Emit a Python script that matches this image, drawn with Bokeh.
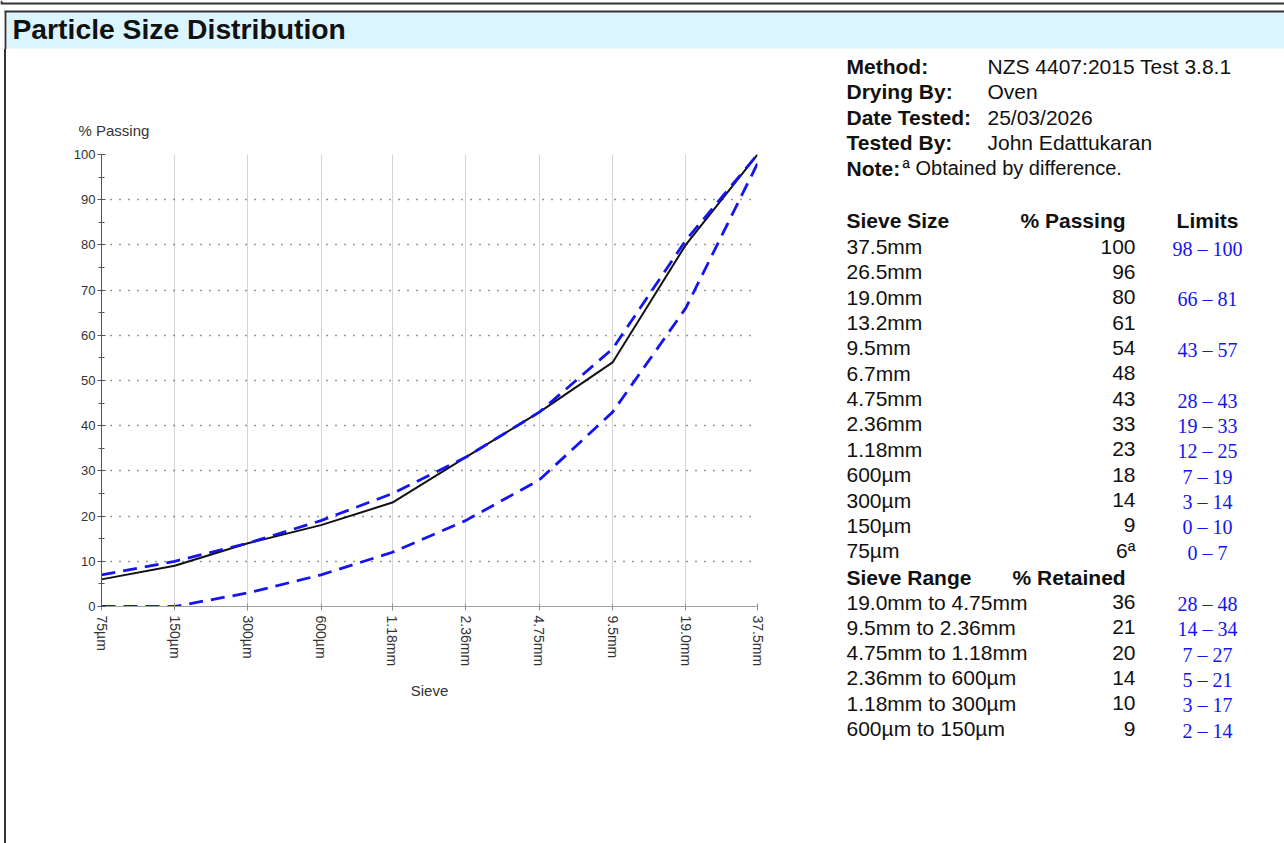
from bokeh.plotting import figure
from bokeh.models import Range1d, FixedTicker, SingleIntervalTicker, Spacer
from bokeh.layouts import column, row
from bokeh.embed import file_html
from bokeh.resources import INLINE
from bokeh.core.properties import value

SANS = "Liberation Sans"
SERIF = "Liberation Serif"

# ---------------- data ----------------
sieve_labels = ["75µm", "150µm", "300µm", "600µm", "1.18mm", "2.36mm",
                "4.75mm", "9.5mm", "19.0mm", "37.5mm"]
sieve_mm = [0.075, 0.15, 0.3, 0.6, 1.18, 2.36, 4.75, 9.5, 19.0, 37.5]
passing = [6, 9, 14, 18, 23, 33, 43, 54, 80, 100]
upper_limit = [7, 10, 14, 19, 25, 33, 43, 57, 81, 100]
lower_limit = [0, 0, 3, 7, 12, 19, 28, 43, 66, 98]

info_labels = ["Method:", "Drying By:", "Date Tested:", "Tested By:"]
info_values = ["NZS 4407:2015 Test 3.8.1", "Oven", "25/03/2026", "John Edattukaran"]
note_label = "Note:"
note_text = "ª Obtained by difference."

table_sieves = ["37.5mm", "26.5mm", "19.0mm", "13.2mm", "9.5mm", "6.7mm", "4.75mm",
                "2.36mm", "1.18mm", "600µm", "300µm", "150µm", "75µm"]
table_passing = ["100", "96", "80", "61", "54", "48", "43", "33", "23", "18", "14", "9", "6ª"]
table_limits = ["98 – 100", "", "66 – 81", "", "43 – 57", "", "28 – 43", "19 – 33",
                "12 – 25", "7 – 19", "3 – 14", "0 – 10", "0 – 7"]

range_labels = ["19.0mm to 4.75mm", "9.5mm to 2.36mm", "4.75mm to 1.18mm",
                "2.36mm to 600µm", "1.18mm to 300µm", "600µm to 150µm"]
range_retained = ["36", "21", "20", "14", "10", "9"]
range_limits = ["28 – 48", "14 – 34", "7 – 27", "5 – 21", "3 – 17", "2 – 14"]

TXT = "#111111"
BLUE = "#1414f0"
DARK = "#333333"


def blank_fig(w, h, x0, x1, y_bottom, y_top):
    f = figure(width=w, height=h, x_range=Range1d(x0, x1), y_range=Range1d(y_bottom, y_top),
               output_backend="svg", toolbar_location=None, x_axis_location=None,
               y_axis_location=None, min_border=0, outline_line_color=None)
    f.grid.visible = False
    f.background_fill_color = "white"
    f.border_fill_color = "white"
    return f


# ---------------- header band ----------------
hdr = blank_fig(1284, 49, 0, 1284, 49, 0)
hdr.quad(left=[6], right=[1284], top=[12], bottom=[48], fill_color="#daf5fd", line_color=None)
hdr.segment(x0=[0, 4], y0=[3, 11], x1=[1284, 1284], y1=[3, 11], line_color=DARK, line_width=1.8)
hdr.segment(x0=[1, 5], y0=[0, 11], x1=[1, 5], y1=[3, 49], line_color=DARK, line_width=1.8)
hdr.text(x=[12], y=[28], text=["Particle Size Distribution"], text_font=value(SANS),
         text_font_style="bold", text_font_size="28.3px", text_baseline="middle",
         text_align="left", text_color=TXT)

# ---------------- chart ----------------
chart = figure(width=822, height=794, x_axis_type="log",
               x_range=Range1d(sieve_mm[0], sieve_mm[-1]), y_range=Range1d(0, 100),
               output_backend="svg", toolbar_location=None,
               min_border_left=95, min_border_right=71, min_border_top=105, min_border_bottom=237,
               outline_line_color=None, title="% Passing")
chart.background_fill_color = "white"
chart.border_fill_color = "white"
chart.title.text_font = SANS
chart.title.text_font_style = "normal"
chart.title.text_font_size = "15px"
chart.title.text_color = "#333333"
chart.title.align = "left"
chart.title.offset = -23
chart.title.standoff = 31

xa = chart.xaxis[0]
xa.ticker = FixedTicker(ticks=sieve_mm, minor_ticks=[])
xa.major_label_overrides = {v: lab for v, lab in zip(sieve_mm, sieve_labels)}
xa.major_label_orientation = "vertical"
xa.major_label_text_font = SANS
xa.major_label_text_font_size = "14px"
xa.major_label_text_color = "#333333"
xa.major_label_standoff = 5
xa.axis_line_color = "#a0a0a0"
xa.major_tick_line_color = "#909090"
xa.major_tick_in = 3
xa.major_tick_out = 4
xa.axis_label = "Sieve"
xa.axis_label_text_font = SANS
xa.axis_label_text_font_style = "normal"
xa.axis_label_text_font_size = "15px"
xa.axis_label_text_color = "#333333"
xa.axis_label_standoff = 13

ya = chart.yaxis[0]
ya.ticker = SingleIntervalTicker(interval=10, num_minor_ticks=2)
ya.major_label_text_font = SANS
ya.major_label_text_font_size = "13px"
ya.major_label_text_color = "#333333"
ya.major_label_standoff = 2
ya.axis_line_color = "#555555"
ya.major_tick_line_color = "#555555"
ya.minor_tick_line_color = "#555555"
ya.major_tick_in = 4
ya.major_tick_out = 4
ya.minor_tick_in = 3
ya.minor_tick_out = 3

chart.xgrid.grid_line_color = "#d4d4d4"
chart.xgrid.grid_line_width = 1
chart.ygrid.grid_line_color = "#333333"
chart.ygrid.grid_line_dash = "1 8"
chart.ygrid.grid_line_width = 1.4

chart.line(sieve_mm, passing, line_color="#111111", line_width=2)
chart.line(sieve_mm, upper_limit, line_color=BLUE, line_width=2.8, line_dash="14 8")
chart.line(sieve_mm, lower_limit, line_color=BLUE, line_width=2.8, line_dash="14 8")

# ---------------- results table ----------------
tbl = blank_fig(456, 794, 828, 1284, 843, 49)

info_y = [66 + 25.4 * i for i in range(len(info_labels))]
note_y = 66 + 25.4 * len(info_labels)
common = dict(text_font=value(SANS), text_font_size="21px", text_baseline="middle", text_color=TXT)

tbl.text(x=[846] * len(info_labels), y=info_y, text=info_labels, text_font_style="bold", **common)
tbl.text(x=[987] * len(info_values), y=info_y, text=info_values, **common)
tbl.text(x=[846], y=[note_y], text=[note_label], text_font_style="bold", **common)
tbl.text(x=[902], y=[note_y], text=[note_text], text_font=value(SANS), text_font_size="20px",
         text_baseline="middle", text_color=TXT)

hdr_y = 220
tbl.text(x=[846, 1020], y=[hdr_y, hdr_y], text=["Sieve Size", "% Passing"],
         text_font_style="bold", **common)
tbl.text(x=[1207], y=[hdr_y], text=["Limits"], text_font_style="bold", text_align="center", **common)

row_y = [246 + 25.35 * i for i in range(len(table_sieves))]
tbl.text(x=[846] * len(table_sieves), y=row_y, text=table_sieves, **common)
tbl.text(x=[1135] * len(table_passing), y=row_y, text=table_passing, text_align="right", **common)
lim_idx = [i for i, s in enumerate(table_limits) if s]
tbl.text(x=[1207] * len(lim_idx), y=[row_y[i] + 2 for i in lim_idx],
         text=[table_limits[i] for i in lim_idx], text_font=value(SERIF), text_font_size="20px",
         text_baseline="middle", text_align="center", text_color=BLUE)

rhdr_y = 576.5
tbl.text(x=[846, 1012], y=[rhdr_y, rhdr_y], text=["Sieve Range", "% Retained"],
         text_font_style="bold", **common)
rng_y = [601.5 + 25.3 * j for j in range(len(range_labels))]
tbl.text(x=[846] * len(range_labels), y=rng_y, text=range_labels, **common)
tbl.text(x=[1135] * len(range_retained), y=rng_y, text=range_retained, text_align="right", **common)
tbl.text(x=[1207] * len(range_limits), y=[v + 2 for v in rng_y], text=range_limits,
         text_font=value(SERIF), text_font_size="20px", text_baseline="middle",
         text_align="center", text_color=BLUE)

pad = Spacer(width=4, height=794)
border = Spacer(width=2, height=794, styles={"background-color": DARK})

layout = column(hdr, row(pad, border, chart, column(tbl, spacing=0), spacing=0), spacing=0)

open("out.html", "w").write(file_html(layout, INLINE))
